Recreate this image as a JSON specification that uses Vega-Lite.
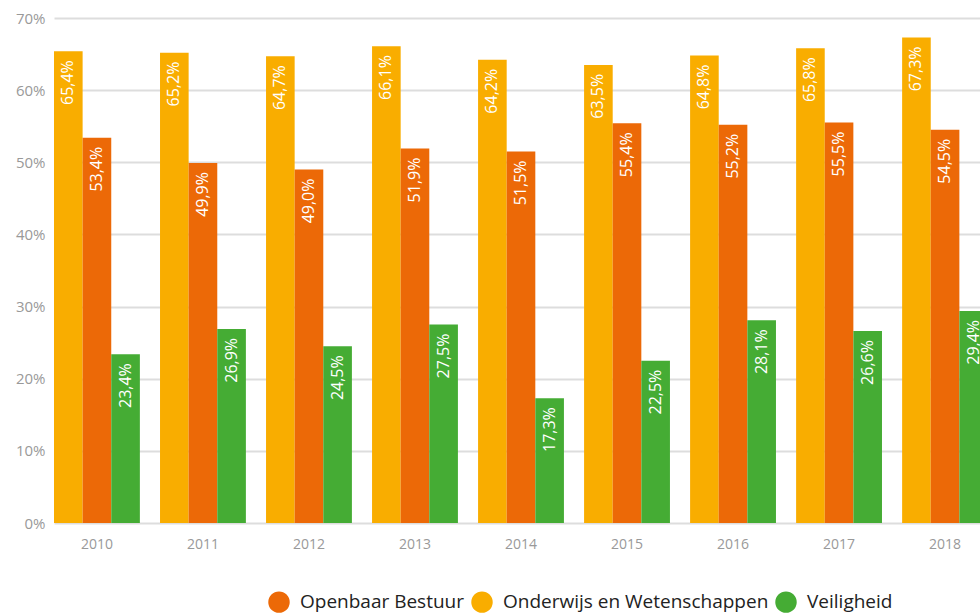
{
  "$schema": "https://vega.github.io/schema/vega-lite/v6.json",
  "width": 934,
  "height": 505,
  "autosize": {"type": "none"},
  "padding": {"left": 54, "top": 18, "right": 0, "bottom": 90},
  "background": "white",
  "config": {
    "locale": {"number": {"decimal": ",", "thousands": ".", "grouping": [3], "currency": ["€", ""]}},
    "view": {"stroke": null},
    "font": "Open Sans"
  },
  "data": {
    "values": [
      {"jaar": "2010", "sector": "Onderwijs en Wetenschappen", "waarde": 0.654},
      {"jaar": "2010", "sector": "Openbaar Bestuur", "waarde": 0.534},
      {"jaar": "2010", "sector": "Veiligheid", "waarde": 0.234},
      {"jaar": "2011", "sector": "Onderwijs en Wetenschappen", "waarde": 0.652},
      {"jaar": "2011", "sector": "Openbaar Bestuur", "waarde": 0.499},
      {"jaar": "2011", "sector": "Veiligheid", "waarde": 0.269},
      {"jaar": "2012", "sector": "Onderwijs en Wetenschappen", "waarde": 0.647},
      {"jaar": "2012", "sector": "Openbaar Bestuur", "waarde": 0.490},
      {"jaar": "2012", "sector": "Veiligheid", "waarde": 0.245},
      {"jaar": "2013", "sector": "Onderwijs en Wetenschappen", "waarde": 0.661},
      {"jaar": "2013", "sector": "Openbaar Bestuur", "waarde": 0.519},
      {"jaar": "2013", "sector": "Veiligheid", "waarde": 0.275},
      {"jaar": "2014", "sector": "Onderwijs en Wetenschappen", "waarde": 0.642},
      {"jaar": "2014", "sector": "Openbaar Bestuur", "waarde": 0.515},
      {"jaar": "2014", "sector": "Veiligheid", "waarde": 0.173},
      {"jaar": "2015", "sector": "Onderwijs en Wetenschappen", "waarde": 0.635},
      {"jaar": "2015", "sector": "Openbaar Bestuur", "waarde": 0.554},
      {"jaar": "2015", "sector": "Veiligheid", "waarde": 0.225},
      {"jaar": "2016", "sector": "Onderwijs en Wetenschappen", "waarde": 0.648},
      {"jaar": "2016", "sector": "Openbaar Bestuur", "waarde": 0.552},
      {"jaar": "2016", "sector": "Veiligheid", "waarde": 0.281},
      {"jaar": "2017", "sector": "Onderwijs en Wetenschappen", "waarde": 0.658},
      {"jaar": "2017", "sector": "Openbaar Bestuur", "waarde": 0.555},
      {"jaar": "2017", "sector": "Veiligheid", "waarde": 0.266},
      {"jaar": "2018", "sector": "Onderwijs en Wetenschappen", "waarde": 0.673},
      {"jaar": "2018", "sector": "Openbaar Bestuur", "waarde": 0.545},
      {"jaar": "2018", "sector": "Veiligheid", "waarde": 0.294}
    ]
  },
  "encoding": {
    "x": {
      "field": "jaar", "type": "nominal", "title": null,
      "scale": {"paddingInner": 0.19, "paddingOuter": 0},
      "axis": {"labelAngle": 0, "domain": false, "ticks": false, "labelPadding": 14,
               "labelColor": "#999999", "labelFontSize": 14, "labelFont": "Open Sans"}
    },
    "xOffset": {
      "field": "sector", "type": "nominal",
      "sort": ["Onderwijs en Wetenschappen", "Openbaar Bestuur", "Veiligheid"]
    },
    "y": {
      "field": "waarde", "type": "quantitative", "title": null,
      "scale": {"domain": [0, 0.7], "nice": false},
      "axis": {"format": ".0%", "values": [0, 0.1, 0.2, 0.3, 0.4, 0.5, 0.6, 0.7],
               "domain": false, "ticks": false, "labelPadding": 9,
               "gridColor": "#dddddd", "gridWidth": 2,
               "labelColor": "#999999", "labelFontSize": 15, "labelFont": "Open Sans"}
    }
  },
  "layer": [
    {
      "mark": {"type": "bar"},
      "encoding": {
        "color": {
          "field": "sector", "type": "nominal", "title": null,
          "scale": {
            "domain": ["Openbaar Bestuur", "Onderwijs en Wetenschappen", "Veiligheid"],
            "range": ["#EC6907", "#F9AD00", "#45AC34"]
          },
          "legend": {
            "orient": "none", "legendX": 214, "legendY": 573, "direction": "horizontal",
            "symbolType": "circle", "symbolSize": 460, "symbolStrokeWidth": 0, "symbolOpacity": 1,
            "labelFontSize": 19, "labelColor": "#222222", "labelFont": "Open Sans",
            "labelOffset": 10, "columnPadding": 6, "labelLimit": 400
          }
        }
      }
    },
    {
      "mark": {"type": "text", "angle": 270, "align": "right", "baseline": "middle",
               "dx": -9, "color": "white", "fontSize": 16, "font": "Open Sans"},
      "encoding": {
        "text": {"field": "waarde", "type": "quantitative", "format": ".1%"}
      }
    }
  ]
}
